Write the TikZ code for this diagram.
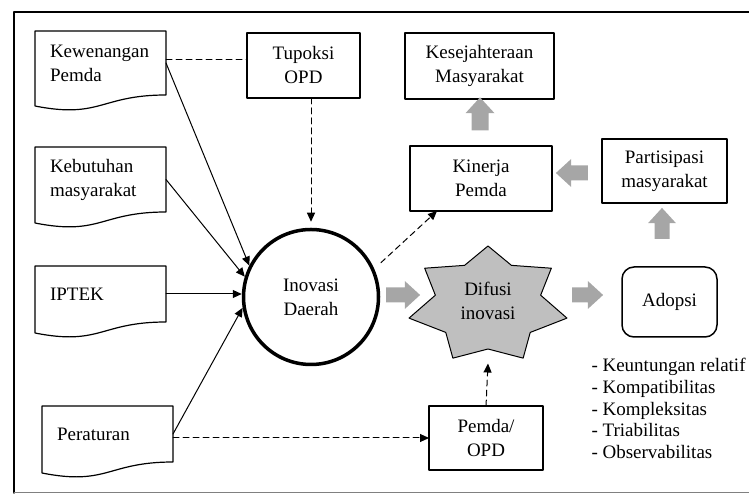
\documentclass[tikz,border=0pt]{standalone}
\usepackage{fontspec}
\setmainfont{Liberation Serif}
\usepackage{tikz}
\usetikzlibrary{calc}
\usetikzlibrary{arrows.meta}
\usetikzlibrary{shapes.arrows}

\definecolor{stargray}{RGB}{191,191,191}
\definecolor{arrowgray}{RGB}{166,166,166}

\newcommand{\docwave}[1]{%
\draw[line width=1.2pt] (#1.south east) -- (#1.north east) -- (#1.north west) -- ([yshift=-11pt]#1.south west) .. controls ([yshift=-24pt]#1.south) and (#1.south) .. (#1.south east) -- cycle;}

\begin{document}
\begin{tikzpicture}[x=1pt,y=1pt,line cap=round,line join=round,line width=1pt,>={Triangle[length=9pt,width=8pt]},
every node/.style={font=\fontsize{19}{24}\selectfont},
doc/.style={minimum width=131pt,text width=101pt,inner xsep=15pt,inner ysep=0pt,outer sep=0pt,align=left},
box/.style={draw,line width=1.2pt,inner sep=0pt,outer sep=0pt,align=center},
blockarr/.style={single arrow,fill=arrowgray,draw=none,inner xsep=0pt,inner ysep=7pt,minimum width=27pt,minimum height=33pt,single arrow head extend=6.5pt,single arrow tip angle=85},
uparr/.style={blockarr,shape border rotate=90,inner xsep=7pt,inner ysep=0pt},
dashline/.style={dash pattern=on 6pt off 4pt}]
\useasboundingbox (0,0) rectangle (749,494);
\draw[line width=1.5pt] (751,482) -- (14,482) -- (14,1);
\draw[gray] (14,1) -- (751,1);

% left column
\node[doc,minimum height=64pt] (kew) at (100.5,431) {Kewenangan\\Pemda};
\node[doc,minimum height=65pt] (keb) at (100.5,314.5) {Kebutuhan\\masyarakat};
\node[doc,minimum height=56pt] (ipt) at (100.5,200) {IPTEK};
\node[doc,minimum height=56pt] (per) at (107.5,60) {Peraturan};
\docwave{kew}
\docwave{keb}
\docwave{ipt}
\docwave{per}

\node[box,minimum width=113pt,minimum height=65pt] (tup) at (303.5,428.5) {Tupoksi\\OPD};
\node[circle,draw,line width=3.5pt,minimum size=135pt,inner sep=0pt,align=center] (ino) at (311,197) {Inovasi\\Daerah};

% right part
\node[box,minimum width=149pt,minimum height=66pt] (kes) at (479.5,428) {Kesejahteraan\\Masyarakat};
\node[box,minimum width=142pt,minimum height=65pt] (kin) at (481,315.5) {Kinerja\\Pemda};
\node[box,minimum width=125pt,minimum height=64pt] (par) at (664.5,323) {Partisipasi\\masyarakat};
\coordinate (difc) at (488,189);
\draw[fill=stargray] ($(difc)+(90:81 and 59)$) \foreach \k in {1,...,7} { -- ($(difc)+({90+(\k-0.5)*360/7}:54 and 44)$) -- ($(difc)+({90+\k*360/7}:81 and 59)$) } -- cycle;
\node[align=center,minimum width=162pt,minimum height=124pt,inner sep=0pt] (dif) at (488,193) {Difusi\\inovasi};
\node[box,rounded corners=12pt,line width=1.5pt,minimum width=95pt,minimum height=70pt] (ado) at (669.5,192) {Adopsi};
\node[box,minimum width=114pt,minimum height=64pt] (pem) at (486,56) {Pemda/\\OPD};
\node[anchor=north west,inner sep=0pt,align=left,font=\fontsize{19}{21.7}\selectfont] (krt) at (591,136) {- Keuntungan relatif\\- Kompatibilitas\\- Kompleksitas\\- Triabilitas\\- Observabilitas};

% gray arrows
\node[uparr,inner xsep=8pt,minimum width=29pt,single arrow head extend=6pt] (g1) at (480,375.5) {};
\node[blockarr,shape border rotate=180,minimum height=32pt] (g2) at (576,321) {};
\node[uparr,minimum height=31pt] (g3) at (662,266.5) {};
\node[blockarr,minimum height=34pt] (g4) at (399,199) {};
\node[blockarr,minimum height=31pt] (g5) at (583.5,199) {};

% connectors
\draw[->] (kew.east) -- (ino.153);
\draw[->] (keb.east) -- (ino.163);
\draw[->] (ipt.east) -- (ipt.east -| ino.west);
\draw[->] (per.east) -- (ino.189);
\draw[dashline] ([yshift=3pt]kew.east) -- ([yshift=3pt]kew.east -| tup.west);
\draw[dashline,->,shorten >=6pt] (ino.north |- tup.south) -- (ino.north);
\draw[dashline,->] (pem.west -| per.east) -- (pem.west);
\draw[dashline,->] (pem.north) -- (dif.south);
\coordinate (kintip) at ([xshift=27pt]kin.south west);
\draw[dashline,->,shorten <=9pt] (ino.24) -- (kintip);
\end{tikzpicture}
\end{document}
